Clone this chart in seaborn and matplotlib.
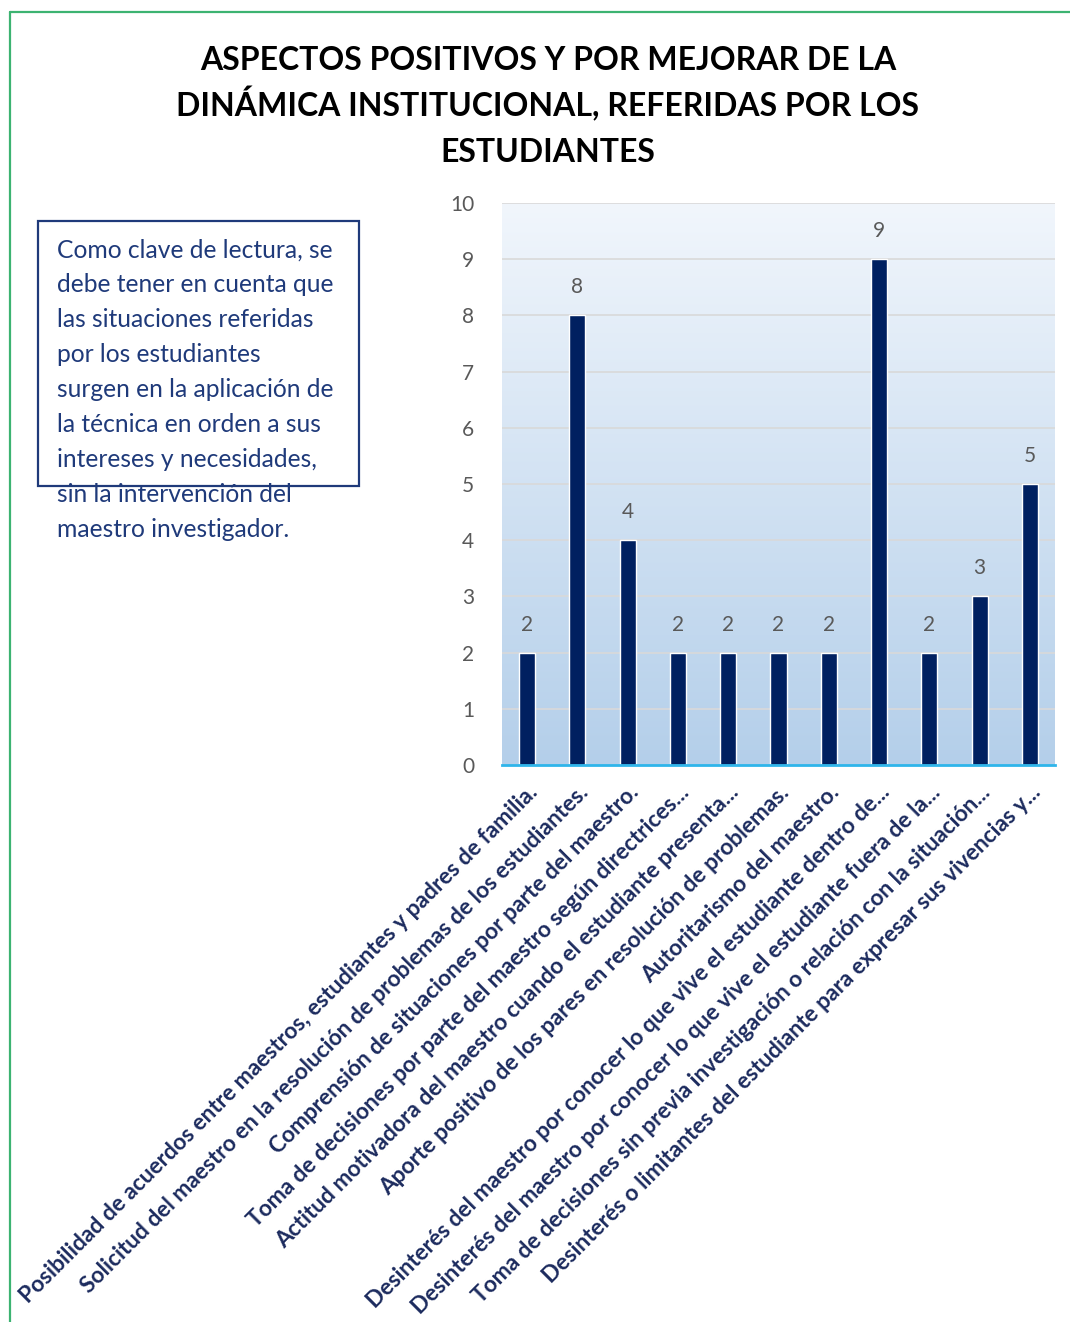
import numpy as np
import pandas as pd
import matplotlib
matplotlib.use("Agg")
import matplotlib.pyplot as plt
import seaborn as sns
from matplotlib.patches import Rectangle
from matplotlib.lines import Line2D

categories = [
    "Posibilidad de acuerdos entre maestros, estudiantes y padres de familia.",
    "Solicitud del maestro en la resolución de problemas de los estudiantes.",
    "Comprensión de situaciones por parte del maestro.",
    "Toma de decisiones por parte del maestro según directrices...",
    "Actitud motivadora del maestro cuando el estudiante presenta...",
    "Aporte positivo de los pares en resolución de problemas.",
    "Autoritarismo del maestro.",
    "Desinterés del maestro por conocer lo que vive el estudiante dentro de...",
    "Desinterés del maestro por conocer lo que vive el estudiante fuera de la...",
    "Toma de decisiones sin previa investigación o relación con la situación...",
    "Desinterés o limitantes del estudiante para expresar sus vivencias y...",
]
values = [2, 8, 4, 2, 2, 2, 2, 9, 2, 3, 5]
y_ticks = [0, 1, 2, 3, 4, 5, 6, 7, 8, 9, 10]

title_lines = [
    "ASPECTOS POSITIVOS Y POR MEJORAR DE LA",
    "DINÁMICA INSTITUCIONAL, REFERIDAS POR LOS",
    "ESTUDIANTES",
]
note_lines = [
    "Como clave de lectura, se",
    "debe tener en cuenta que",
    "las situaciones referidas",
    "por los estudiantes",
    "surgen en la aplicación de",
    "la técnica en orden a sus",
    "intereses y necesidades,",
    "sin la intervención del",
    "maestro investigador.",
]

sns.set_theme(style="white")
plt.rcParams["font.family"] = ["Lato", "DejaVu Sans"]

W, H = 1070, 1322
fig = plt.figure(figsize=(W / 100, H / 100), dpi=100)
fig.patch.set_facecolor("white")

def fx(px):
    return px / W

def fy(py):
    return 1 - py / H

ax = fig.add_axes([fx(502), fy(765), fx(1055) - fx(502), fy(203) - fy(765)])

df = pd.DataFrame({"cat": categories, "val": values})
sns.barplot(data=df, x="cat", y="val", color="#002060", width=0.32,
            saturation=1, ax=ax, zorder=3)

n = len(categories)
# gradient background (light at top, blue at bottom)
grad = np.linspace(0, 1, 256).reshape(-1, 1)
top = np.array([241, 246, 252]) / 255
bot = np.array([180, 207, 234]) / 255
img = top[None, None, :] * (1 - grad[:, :, None]) + bot[None, None, :] * grad[:, :, None]
ax.imshow(img, extent=[-0.5, n - 0.5, 0, 10], aspect="auto", zorder=0,
          origin="upper")
ax.set_ylim(0, 10)
ax.set_xlim(-0.5, n - 0.5)

ax.set_yticks(y_ticks)
ax.set_yticklabels([str(t) for t in y_ticks], color="#595959", fontsize=15)
ax.tick_params(axis="y", length=0, pad=20)
ax.tick_params(axis="x", length=0, pad=12)
for t in y_ticks[1:]:
    ax.axhline(t, color="#d9d9d9", lw=1.2, zorder=1)

for s in ["top", "right", "left"]:
    ax.spines[s].set_visible(False)
ax.spines["bottom"].set_color("#2fb5ea")
ax.spines["bottom"].set_linewidth(2)
ax.spines["bottom"].set_zorder(4)

ax.set_xlabel("")
ax.set_ylabel("")
ax.set_xticks(range(n))
ax.set_xticklabels(categories, rotation=45, ha="right", rotation_mode="anchor",
                   fontsize=16.4, fontweight="bold", color="#1c2b5e")

ax.bar_label(ax.containers[0], padding=13, color="#595959", fontsize=15)

# title
for i, line in enumerate(title_lines):
    fig.text(fx(548), fy(70 + i * 46), line, ha="center", va="baseline",
             fontsize=23, fontweight="bold", color="black")

# note box
fig.add_artist(Rectangle((fx(38), fy(486)), fx(359) - fx(38), fy(221) - fy(486),
                         transform=fig.transFigure, fill=False,
                         edgecolor="#1f3a7a", lw=1.6))
for i, line in enumerate(note_lines):
    fig.text(fx(57), fy(250 + i * 34.9), line, ha="left", va="center",
             fontsize=17.7, color="#1f3a7a")

# green frame
fig.add_artist(Line2D([fx(10), fx(10)], [fy(12), 0], transform=fig.transFigure,
                      color="#3cb371", lw=1.6))
fig.add_artist(Line2D([fx(10), 1], [fy(12), fy(12)], transform=fig.transFigure,
                      color="#3cb371", lw=1.6))

fig.savefig("out.png", dpi=100)
